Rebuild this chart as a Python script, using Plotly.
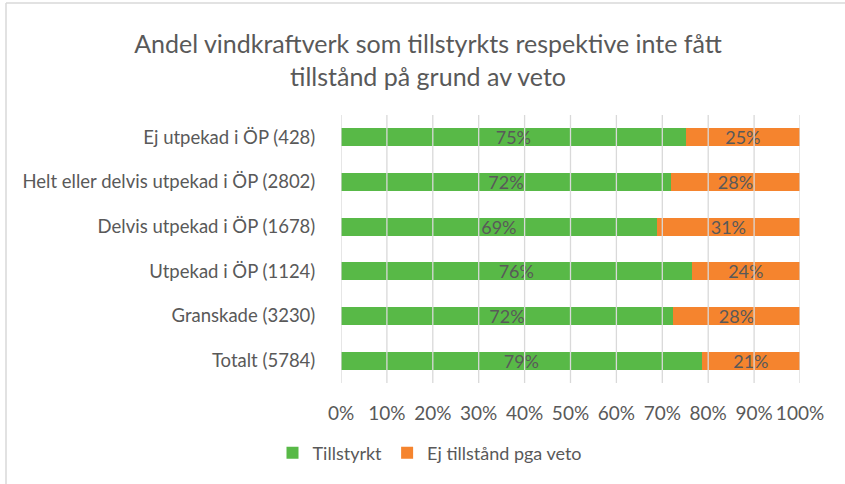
import plotly.graph_objects as go

categories = [
    "Ej utpekad i ÖP (428)",
    "Helt eller delvis utpekad i ÖP (2802)",
    "Delvis utpekad i ÖP (1678)",
    "Utpekad i ÖP (1124)",
    "Granskade (3230)",
    "Totalt (5784)",
]
tillstyrkt = [75.1, 71.9, 68.8, 76.4, 72.3, 78.6]
ej_tillstand = [24.9, 28.1, 31.2, 23.6, 27.7, 21.4]
x_ticks = [0, 10, 20, 30, 40, 50, 60, 70, 80, 90, 100]
x_tick_labels = [f"{v}%" for v in x_ticks]

FONT = "Lato"
GRAY = "#595959"
W, H = 845, 484
L, R, T, B = 341, 45, 115, 101
PW, PH = W - L - R, H - T - B

fig = go.Figure()
fig.add_trace(go.Bar(
    y=categories, x=tillstyrkt, name="Tillstyrkt", orientation="h",
    marker=dict(color="#58B947", line=dict(width=0)),
    texttemplate="%{x:.0f}%", textposition="inside", insidetextanchor="middle",
    textfont=dict(family=FONT, size=18, color=GRAY), hoverinfo="x+y",
))
fig.add_trace(go.Bar(
    y=categories, x=ej_tillstand, name="Ej tillstånd pga veto", orientation="h",
    marker=dict(color="#F5842E", line=dict(width=0)),
    texttemplate="%{x:.0f}%", textposition="inside", insidetextanchor="middle",
    textfont=dict(family=FONT, size=18, color=GRAY), hoverinfo="x+y",
))

shapes = []
for v in x_ticks:
    shapes.append(dict(type="line", xref="x", yref="paper", x0=v, x1=v, y0=0, y1=1,
                       line=dict(color="#D9D9D9", width=1.3), layer="above"))

def px2x(px):
    return (px - L) / PW

def py2y(py):
    return (H - B - py) / PH

# chart frame: only the top and left edges are visible in the reference
shapes.append(dict(type="line", xref="paper", yref="paper",
                   x0=px2x(6), x1=px2x(W), y0=py2y(3), y1=py2y(3),
                   line=dict(color="#D9D9D9", width=1.5), layer="below"))
shapes.append(dict(type="line", xref="paper", yref="paper",
                   x0=px2x(6), x1=px2x(6), y0=py2y(3), y1=py2y(H),
                   line=dict(color="#D9D9D9", width=1.5), layer="below"))

fig.update_layout(
    width=W, height=H,
    margin=dict(l=L, r=R, t=T, b=B, autoexpand=False),
    barmode="stack", bargap=0.6,
    paper_bgcolor="white", plot_bgcolor="white",
    font=dict(family=FONT, color=GRAY, size=18),
    title=dict(
        text="Andel vindkraftverk som tillstyrkts respektive inte fått<br>tillstånd på grund av veto",
        x=428 / W, xanchor="center", xref="container",
        y=1 - 53 / H, yanchor="middle", yref="container",
        font=dict(family=FONT, size=25, color=GRAY),
    ),
    xaxis=dict(range=[0, 100], tickvals=x_ticks, ticktext=x_tick_labels,
               showgrid=False, zeroline=False, showline=False,
               ticks="outside", ticklen=13, tickcolor="rgba(0,0,0,0)",
               tickfont=dict(family=FONT, size=19, color=GRAY), fixedrange=True),
    yaxis=dict(categoryorder="array", categoryarray=categories[::-1],
               showgrid=False, zeroline=False, showline=False,
               ticks="outside", ticklen=21, tickcolor="rgba(0,0,0,0)",
               tickfont=dict(family=FONT, size=18.5, color=GRAY), fixedrange=True),
    legend=dict(orientation="h", xref="container", x=430 / W, xanchor="center",
                y=py2y(453), yanchor="middle",
                font=dict(family=FONT, size=18, color=GRAY),
                itemwidth=30, traceorder="normal"),
    shapes=shapes,
    uniformtext=dict(mode="show", minsize=10),
)

fig.write_html("out.html", config={"displayModeBar": False},
               post_script="document.body.style.margin='0px';document.body.style.overflow='hidden';")
